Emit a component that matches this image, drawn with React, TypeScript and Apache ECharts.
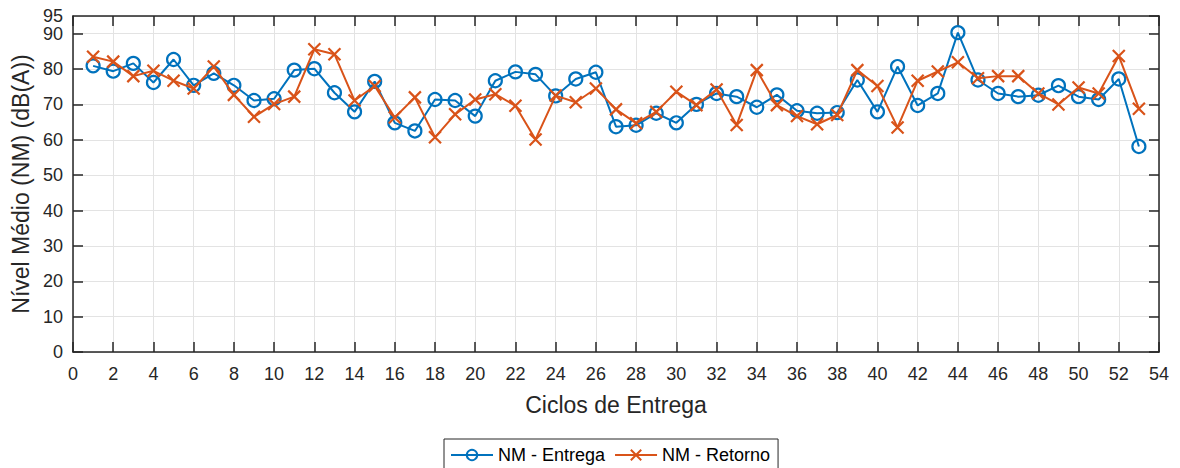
import React, { useEffect, useRef } from "react";
import * as echarts from "echarts";

const cycles = [1,2,3,4,5,6,7,8,9,10,11,12,13,14,15,16,17,18,19,20,21,22,23,24,25,26,27,28,29,30,31,32,33,34,35,36,37,38,39,40,41,42,43,44,45,46,47,48,49,50,51,52,53];
const entrega = [80.9,79.4,81.6,76.2,82.7,75.4,78.8,75.4,71.1,71.6,79.7,80.1,73.3,67.9,76.5,64.8,62.5,71.4,71.1,66.7,76.7,79.2,78.5,72.4,77.2,79.1,63.7,64.1,67.5,64.8,70.0,73.1,72.2,69.2,72.7,68.2,67.5,67.7,76.9,67.9,80.7,69.7,73.1,90.3,76.9,73.1,72.2,72.6,75.3,72.2,71.4,77.2,58.1];
const retorno = [83.5,82.1,78.0,79.5,76.7,74.5,80.7,72.7,66.5,70.1,72.2,85.6,84.2,71.1,75.2,66.3,72.0,60.7,67.2,71.4,72.9,69.6,60.1,72.5,70.6,74.5,68.6,64.7,67.9,73.6,69.8,74.2,64.2,79.7,69.8,66.7,64.4,67.0,79.7,75.2,63.5,76.7,79.3,81.9,77.4,78.0,78.0,73.1,70.0,74.8,73.1,83.7,68.8];
const seriesNames = ["NM - Entrega", "NM - Retorno"];
const xTitle = "Ciclos de Entrega";
const yTitle = "Nível Médio (NM) (dB(A))";
const yMax = 95;

const BLUE = "#0072BD";
const ORANGE = "#D95319";
const AX = "#262626";
const FONT = "Liberation Sans, Arial, sans-serif";

export default function App() {
  const ref = useRef<HTMLDivElement>(null);
  useEffect(() => {
    if (!ref.current) return;
    const chart = echarts.init(ref.current, null, { renderer: "svg" });
    const axisCommon = {
      axisLine: { show: true, onZero: false, lineStyle: { color: AX, width: 1.5 } },
      axisTick: { show: true, inside: true, length: 10, lineStyle: { color: AX, width: 1.5 } },
    };
    chart.setOption({
      animation: false,
      backgroundColor: "#ffffff",
      textStyle: { fontFamily: FONT },
      grid: { left: 73, right: 21, top: 16, bottom: 116, containLabel: false },
      legend: {
        left: 444,
        top: 439,
        orient: "horizontal",
        padding: [7, 8, 7, 6],
        itemGap: 9,
        itemWidth: 42,
        itemHeight: 13,
        borderColor: AX,
        borderWidth: 1,
        backgroundColor: "#fff",
        textStyle: { fontSize: 18, color: "#000", fontFamily: FONT },
        data: seriesNames,
      },
      xAxis: [
        {
          type: "value",
          min: 0,
          max: 54,
          interval: 2,
          name: xTitle,
          nameLocation: "middle",
          nameGap: 41,
          nameTextStyle: { fontSize: 23, color: AX, fontFamily: FONT },
          ...axisCommon,
          axisLabel: { fontSize: 18, color: AX, margin: 13, fontFamily: FONT },
          splitLine: { show: true, lineStyle: { color: "#e3e3e3", width: 1 } },
        },
        {
          type: "value",
          position: "top",
          min: 0,
          max: 54,
          interval: 2,
          ...axisCommon,
          axisLabel: { show: false },
          splitLine: { show: false },
        },
      ],
      yAxis: [
        {
          type: "value",
          min: 0,
          max: yMax,
          interval: 10,
          name: yTitle,
          nameLocation: "middle",
          nameGap: 39,
          nameRotate: 90,
          nameTextStyle: { fontSize: 23, color: AX, fontFamily: FONT },
          ...axisCommon,
          axisLabel: {
            fontSize: 18,
            color: AX,
            margin: 10,
            fontFamily: FONT,
            showMaxLabel: false,
          },
          splitLine: { show: true, lineStyle: { color: "#e3e3e3", width: 1 } },
        },
        {
          type: "value",
          position: "right",
          min: 0,
          max: yMax,
          interval: 10,
          ...axisCommon,
          axisLabel: { show: false },
          splitLine: { show: false },
        },
        {
          type: "value",
          position: "left",
          min: 0,
          max: yMax,
          interval: yMax,
          axisLine: { show: false },
          axisTick: { show: false },
          splitLine: { show: false },
          axisLabel: {
            fontSize: 18,
            color: AX,
            margin: 10,
            fontFamily: FONT,
            showMinLabel: false,
            showMaxLabel: true,
            formatter: (v: number) => (v === yMax ? String(yMax) : ""),
          },
        },
      ],
      series: [
        {
          name: seriesNames[0],
          type: "line",
          data: cycles.map((c, i) => [c, entrega[i]]),
          symbol: "circle",
          symbolSize: 13,
          lineStyle: { color: BLUE, width: 2 },
          itemStyle: { color: "rgba(255,255,255,0)", borderColor: BLUE, borderWidth: 2.2 },
          z: 2,
        },
        {
          name: seriesNames[1],
          type: "line",
          data: cycles.map((c, i) => [c, retorno[i]]),
          symbol: "path://M0,0L10,10M10,0L0,10",
          symbolSize: 12,
          lineStyle: { color: ORANGE, width: 2 },
          itemStyle: { color: ORANGE, borderColor: ORANGE, borderWidth: 2.2 },
          z: 3,
        },
      ],
    });
    return () => chart.dispose();
  }, []);
  return (
    <div
      ref={ref}
      style={{ position: "fixed", left: 0, top: 0, width: 1180, height: 468 }}
    />
  );
}
